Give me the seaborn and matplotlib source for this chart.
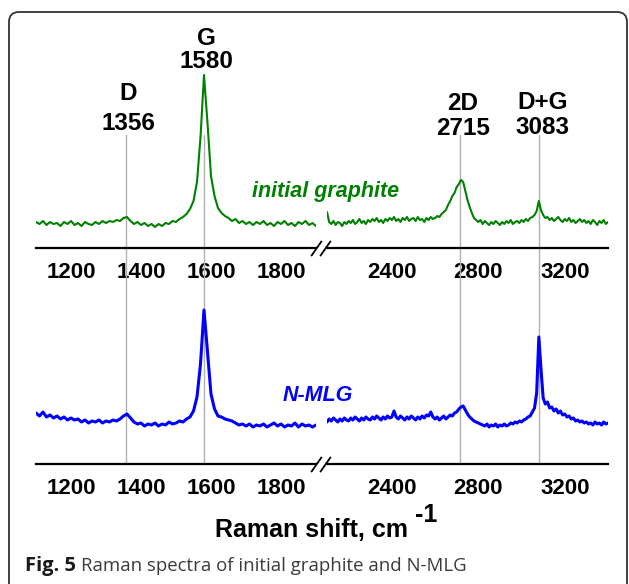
import matplotlib
matplotlib.use("Agg")
import matplotlib.pyplot as plt
import seaborn as sns
import pandas as pd
import numpy as np
from matplotlib.patches import FancyBboxPatch
from matplotlib.transforms import IdentityTransform

# ---------------- data (Raman intensity, a.u.) ----------------
shift_low = list(range(1100, 1901, 10))
shift_high = list(range(2100, 3401, 10))

graphite_low = [26, 24, 27, 23, 26, 24, 25, 22, 26, 24,
                27, 23, 25, 22, 26, 24, 23, 26, 24, 27,
                25, 27, 26, 28, 27, 30, 31, 27, 24, 26,
                23, 25, 22, 24, 21, 24, 22, 25, 24, 27,
                26, 29, 31, 34, 39, 47, 66, 111, 173, 125,
                72, 52, 40, 35, 32, 30, 27, 29, 25, 27,
                24, 26, 23, 26, 24, 27, 23, 25, 22, 26,
                24, 27, 23, 25, 22, 26, 24, 27, 23, 25,
                22]
graphite_high = [36, 26, 24, 27, 23, 26, 25, 22, 26, 24,
                 27, 25, 28, 24, 26, 29, 25, 27, 24, 28,
                 26, 29, 27, 30, 26, 28, 25, 29, 27, 30,
                 28, 31, 27, 29, 26, 30, 28, 31, 27, 29,
                 30, 27, 31, 28, 29, 26, 30, 28, 31, 29,
                 30, 32, 31, 34, 36, 38, 43, 47, 52, 55,
                 61, 64, 68, 66, 57, 48, 41, 35, 30, 28,
                 26, 28, 24, 27, 25, 23, 26, 24, 27, 25,
                 23, 26, 24, 27, 25, 28, 24, 26, 27, 25,
                 28, 26, 29, 27, 30, 31, 33, 37, 47, 38,
                 33, 30, 31, 28, 30, 27, 29, 31, 28, 26,
                 29, 27, 30, 26, 28, 25, 27, 29, 26, 28,
                 25, 27, 24, 28, 26, 23, 27, 25, 28, 24,
                 26]
nmlg_low = [51, 48, 52, 47, 49, 46, 48, 45, 47, 44,
            46, 44, 45, 42, 44, 41, 43, 42, 44, 41,
            43, 42, 44, 43, 45, 48, 50, 46, 42, 40,
            41, 38, 40, 39, 41, 38, 40, 39, 42, 40,
            41, 43, 42, 45, 47, 53, 67, 100, 154, 112,
            70, 55, 48, 47, 45, 44, 43, 41, 39, 40,
            38, 40, 37, 39, 38, 40, 37, 39, 41, 38,
            40, 37, 39, 38, 41, 37, 40, 38, 39, 37,
            39]
nmlg_high = [42, 45, 43, 46, 44, 42, 45, 43, 46, 44,
             43, 46, 44, 47, 45, 43, 46, 44, 47, 45,
             44, 47, 45, 48, 46, 44, 47, 45, 48, 46,
             47, 53, 47, 45, 48, 46, 44, 47, 45, 48,
             46, 44, 47, 45, 48, 46, 49, 48, 52, 47,
             45, 47, 44, 46, 48, 45, 47, 49, 48, 51,
             52, 55, 57, 58, 54, 50, 47, 45, 43, 42,
             41, 40, 39, 38, 40, 37, 39, 38, 40, 37,
             39, 38, 40, 38, 39, 41, 40, 42, 41, 43,
             42, 44, 45, 47, 48, 52, 56, 71, 127, 95,
             66, 60, 62, 56, 57, 53, 55, 51, 53, 49,
             50, 47, 48, 45, 46, 43, 44, 42, 43, 41,
             42, 40, 41, 39, 42, 40, 41, 39, 42, 40,
             41]

peak_names = ["D", "G", "2D", "D+G"]
peak_pos = [1356, 1580, 2715, 3083]
peak_labels = ["1356", "1580", "2715", "3083"]

low_ticks = [1100, 1200, 1300, 1400, 1500, 1600, 1700, 1800]
low_ticklabels = ["", "1200", "", "1400", "", "1600", "", "1800"]
high_ticks = [2200, 2400, 2600, 2800, 3000, 3200, 3400]
high_ticklabels = ["", "2400", "", "2800", "", "3200", ""]

# ---------------- style ----------------
sns.set_style("white")
plt.rcParams['font.family'] = ['Liberation Sans', 'DejaVu Sans']

W, H = 629, 584
fig = plt.figure(figsize=(W / 100, H / 100), dpi=100)
fig.patch.set_facecolor("white")


def fx(px):
    return px / W


def fy(py):
    return 1 - py / H


GREEN = "#008000"
BLUE = "#0000ff"
GRAY = "#b0b0b0"

# axes placement (pixels)
xl0, xl1 = 36, 316
xr0, xr1 = 327, 608
ax_h = 220
top_axis_y = 248
bot_axis_y = 464

axes = {}
for row, ay in (("top", top_axis_y), ("bot", bot_axis_y)):
    al = fig.add_axes([fx(xl0), fy(ay), fx(xl1 - xl0), ax_h / H])
    ar = fig.add_axes([fx(xr0), fy(ay), fx(xr1 - xr0), ax_h / H])
    axes[row] = (al, ar)

df_g_low = pd.DataFrame({"shift": shift_low, "I": graphite_low})
df_g_high = pd.DataFrame({"shift": shift_high, "I": graphite_high})
df_n_low = pd.DataFrame({"shift": shift_low, "I": nmlg_low})
df_n_high = pd.DataFrame({"shift": shift_high, "I": nmlg_high})

for row, (dl, dh, col, lw) in {"top": (df_g_low, df_g_high, GREEN, 1.5),
                               "bot": (df_n_low, df_n_high, BLUE, 2.2)}.items():
    al, ar = axes[row]
    sns.lineplot(data=dl, x="shift", y="I", ax=al, color=col, linewidth=lw, zorder=3)
    sns.lineplot(data=dh, x="shift", y="I", ax=ar, color=col, linewidth=lw, zorder=3)
    al.set_xlim(1100, 1900)
    ar.set_xlim(2100, 3400)
    for a in (al, ar):
        a.set_ylim(0, ax_h)
        a.set_facecolor("none")
        for s in ("top", "left", "right"):
            a.spines[s].set_visible(False)
        a.spines["bottom"].set_linewidth(1.6)
        a.spines["bottom"].set_color("black")
        a.set_yticks([])
        a.set_xlabel("")
        a.set_ylabel("")
        a.tick_params(axis="x", direction="out", length=4, width=1.3, pad=6,
                      labelsize=16, colors="black")
    al.set_xticks(low_ticks)
    al.set_xticklabels(low_ticklabels, fontweight="bold")
    ar.set_xticks(high_ticks)
    ar.set_xticklabels(high_ticklabels, fontweight="bold")
    # axis break marks
    for a, xpos in ((al, 1.0), (ar, -0.007)):
        a.plot([xpos], [0], transform=a.transAxes, marker=[(-0.7, -1), (0.7, 1)],
               markersize=11, markeredgewidth=1.3, color="black", linestyle="none",
               clip_on=False, zorder=5)

# vertical reference lines spanning both panels
al_top, ar_top = axes["top"]
ymax = (top_axis_y - 135) / ax_h
ymin = (top_axis_y - bot_axis_y) / ax_h
for name, pos, lab in zip(peak_names, peak_pos, peak_labels):
    a = al_top if pos < 2000 else ar_top
    a.axvline(pos, ymin=ymin, ymax=ymax, color=GRAY, linewidth=1.0, zorder=1,
              clip_on=False)

# peak labels
name_base = {"D": 100, "G": 45, "2D": 110, "D+G": 109}
num_base = {"D": 130, "G": 68.5, "2D": 135, "D+G": 134}
for name, pos, lab in zip(peak_names, peak_pos, peak_labels):
    a = al_top if pos < 2000 else ar_top
    for txt, yb in ((name, name_base[name]), (lab, num_base[name])):
        a.annotate(txt, xy=(pos, fy(yb)), xycoords=("data", "figure fraction"),
                   xytext=(2, 0), textcoords="offset points",
                   ha="center", va="baseline", fontsize=17.5, fontweight="bold",
                   color="black", annotation_clip=False)

# series labels
fig.text(fx(399), fy(197), "initial graphite", color=GREEN, fontsize=15.5,
         fontweight="bold", fontstyle="italic", ha="right", va="baseline")
fig.text(fx(353), fy(401), "N-MLG", color=BLUE, fontsize=15.5,
         fontweight="bold", fontstyle="italic", ha="right", va="baseline")

# x label with superscript
fig.text(fx(215), fy(537), "Raman shift, cm", fontsize=18, fontweight="bold",
         ha="left", va="baseline", color="black")
fig.text(fx(415), fy(522), "-1", fontsize=18, fontweight="bold",
         ha="left", va="baseline", color="black")

# caption
cap1 = fig.text(fx(25), fy(571), "Fig. 5", fontsize=14.5, fontweight="bold",
                family=["Open Sans", "DejaVu Sans"], ha="left", va="baseline",
                color="#1a1a1a")
fig.canvas.draw()
r = fig.canvas.get_renderer()
bb = cap1.get_window_extent(renderer=r)
fig.text((bb.x1 + 5) / W, fy(571), "Raman spectra of initial graphite and N-MLG",
         fontsize=13.4, family=["Open Sans", "DejaVu Sans"], ha="left",
         va="baseline", color="#3a3a3a")

# rounded frame
frame = FancyBboxPatch((9, -30), 618, 602, boxstyle="round,pad=0,rounding_size=10",
                       transform=IdentityTransform(), facecolor="none",
                       edgecolor="#333333", linewidth=1.3)
fig.patches.append(frame)

fig.savefig("out.png", dpi=100)
